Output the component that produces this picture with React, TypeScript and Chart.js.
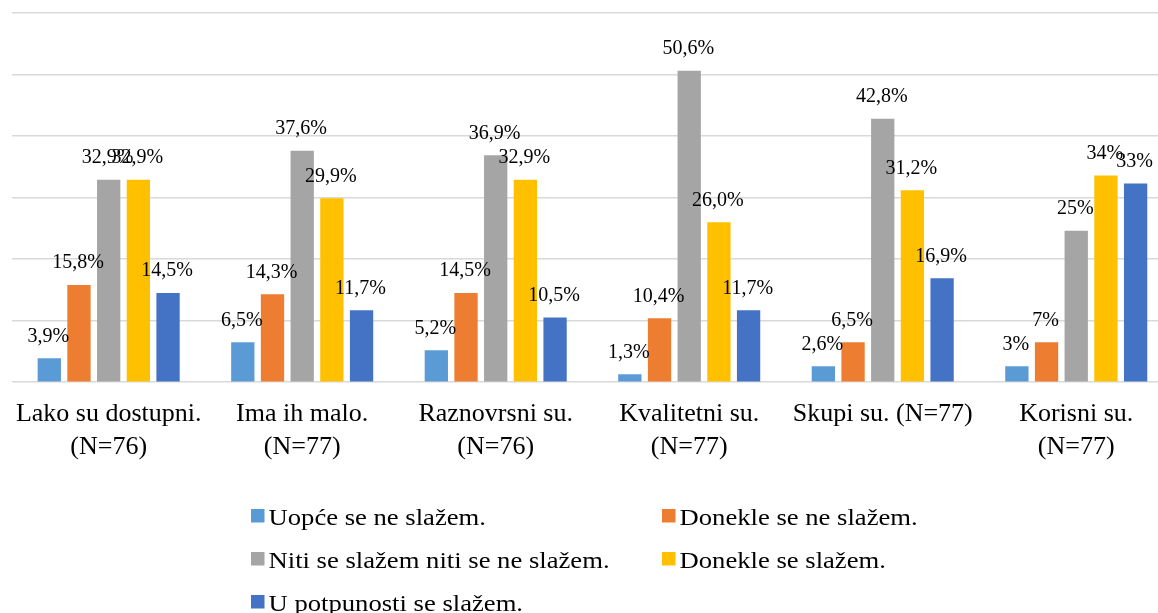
import React, { useEffect, useRef } from "react";
import { Chart, registerables } from "chart.js";

Chart.register(...registerables);

const categories: (string | string[])[] = [
  ["Lako su dostupni.", "(N=76)"],
  ["Ima ih malo.", "(N=77)"],
  ["Raznovrsni su.", "(N=76)"],
  ["Kvalitetni su.", "(N=77)"],
  "Skupi su. (N=77)",
  ["Korisni su.", "(N=77)"],
];

const seriesNames = [
  "Uopće se ne slažem.",
  "Donekle se ne slažem.",
  "Niti se slažem niti se ne slažem.",
  "Donekle se slažem.",
  "U potpunosti se slažem.",
];

const uopceNe = [3.9, 6.5, 5.2, 1.3, 2.6, 2.6];
const donekleNe = [15.8, 14.3, 14.5, 10.4, 6.5, 6.5];
const nitiNiti = [32.9, 37.6, 36.9, 50.6, 42.8, 24.6];
const donekleDa = [32.9, 29.9, 32.9, 26.0, 31.2, 33.6];
const potpuno = [14.5, 11.7, 10.5, 11.7, 16.9, 32.3];

const uopceNeLabels = ["3,9%", "6,5%", "5,2%", "1,3%", "2,6%", "3%"];
const donekleNeLabels = ["15,8%", "14,3%", "14,5%", "10,4%", "6,5%", "7%"];
const nitiNitiLabels = ["32,9%", "37,6%", "36,9%", "50,6%", "42,8%", "25%"];
const donekleDaLabels = ["32,9%", "29,9%", "32,9%", "26,0%", "31,2%", "34%"];
const potpunoLabels = ["14,5%", "11,7%", "10,5%", "11,7%", "16,9%", "33%"];

const colors = ["#5B9BD5", "#ED7D31", "#A5A5A5", "#FFC000", "#4472C4"];

const FONT = "'Liberation Serif', 'Times New Roman', serif";

const seriesValues = [uopceNe, donekleNe, nitiNiti, donekleDa, potpuno];
const seriesLabels = [uopceNeLabels, donekleNeLabels, nitiNitiLabels, donekleDaLabels, potpunoLabels];

const dataLabelPlugin = {
  id: "dataLabels",
  afterDatasetsDraw(chart: any) {
    const ctx = chart.ctx;
    ctx.save();
    ctx.font = `20px ${FONT}`;
    ctx.fillStyle = "#000000";
    ctx.textAlign = "center";
    ctx.textBaseline = "alphabetic";
    chart.data.datasets.forEach((ds: any, di: number) => {
      const meta = chart.getDatasetMeta(di);
      meta.data.forEach((el: any, i: number) => {
        const txt = ds.valueLabels[i];
        ctx.fillText(txt, el.x - 1, el.y - 16.5);
      });
    });
    ctx.restore();
  },
};

const legendPlugin = {
  id: "customLegend",
  afterDraw(chart: any) {
    const ctx = chart.ctx;
    const colX = [251, 662];
    const rowTop = [509, 552, 595];
    const box = 13.5;
    ctx.save();
    ctx.font = `24px ${FONT}`;
    ctx.fillStyle = "#000000";
    ctx.textAlign = "left";
    ctx.textBaseline = "alphabetic";
    chart.data.datasets.forEach((ds: any, i: number) => {
      const x = colX[i % 2];
      const y = rowTop[Math.floor(i / 2)];
      ctx.fillStyle = ds.backgroundColor;
      ctx.fillRect(x, y, box, box);
      ctx.fillStyle = "#000000";
      ctx.save();
      ctx.translate(x + 17.5, y + box + 2);
      ctx.scale(1.11, 1);
      ctx.fillText(ds.label, 0, 0);
      ctx.restore();
    });
    ctx.restore();
  },
};

export default function App() {
  const canvasRef = useRef<HTMLCanvasElement | null>(null);

  useEffect(() => {
    if (!canvasRef.current) return;
    const chart = new Chart(canvasRef.current, {
      type: "bar",
      data: {
        labels: categories,
        datasets: seriesNames.map((name, i) => ({
          label: name,
          data: seriesValues[i],
          valueLabels: seriesLabels[i],
          backgroundColor: colors[i],
          borderWidth: 0,
          categoryPercentage: 0.767,
          barPercentage: 0.785,
        })) as any,
      },
      options: {
        responsive: false,
        animation: false,
        layout: { padding: { left: 4.5, top: 13, right: 0, bottom: 134 } },
        plugins: {
          legend: { display: false },
          tooltip: { enabled: false },
          title: { display: false },
        },
        scales: {
          x: {
            grid: { display: false, drawTicks: false },
            border: { display: false },
            ticks: {
              color: "#000000",
              font: { family: FONT, size: 26, lineHeight: 1.265 },
              padding: 15.5,
              autoSkip: false,
              maxRotation: 0,
              minRotation: 0,
            },
          },
          y: {
            min: 0,
            max: 60,
            ticks: { display: false, stepSize: 10 },
            grid: { color: "#D9D9D9", lineWidth: 1.5, drawTicks: false },
            border: { display: false },
          },
        },
      },
      plugins: [dataLabelPlugin, legendPlugin],
    });
    return () => chart.destroy();
  }, []);

  return (
    <div
      style={{
        position: "fixed",
        left: 0,
        top: 0,
        width: 1158,
        height: 613,
        overflow: "hidden",
        background: "#ffffff",
      }}
    >
      <canvas ref={canvasRef} width={1173} height={613} style={{ display: "block" }} />
    </div>
  );
}
